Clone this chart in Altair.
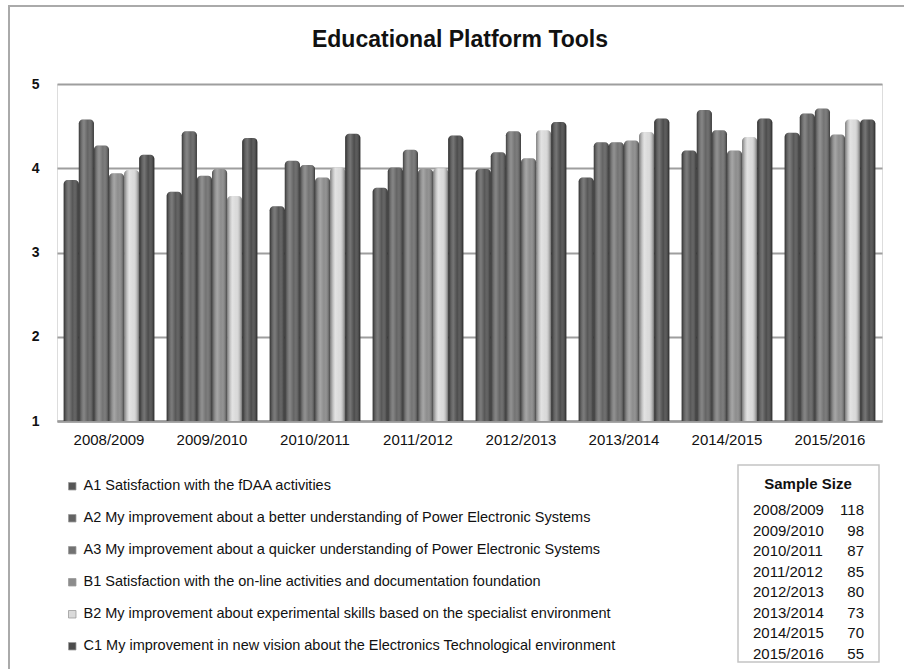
import altair as alt
import pandas as pd

# Academic years on the category axis
years = ["2008/2009", "2009/2010", "2010/2011", "2011/2012",
         "2012/2013", "2013/2014", "2014/2015", "2015/2016"]

# Survey items (legend order)
items = [
    "A1 Satisfaction with the fDAA activities",
    "A2 My improvement about a better understanding of Power Electronic Systems",
    "A3 My improvement about a quicker understanding of Power Electronic Systems",
    "B1 Satisfaction with the on-line activities and documentation foundation",
    "B2 My improvement about experimental skills based on the specialist environment",
    "C1 My improvement in new vision about the Electronics Technological environment",
]

# Mean score per item, one value per academic year
a1 = [3.86, 3.72, 3.55, 3.77, 3.99, 3.89, 4.21, 4.42]
a2 = [4.58, 4.44, 4.09, 4.01, 4.19, 4.31, 4.69, 4.65]
a3 = [4.27, 3.91, 4.04, 4.22, 4.44, 4.31, 4.45, 4.71]
b1 = [3.94, 3.99, 3.89, 3.99, 4.12, 4.33, 4.21, 4.40]
b2 = [3.98, 3.67, 4.01, 4.00, 4.45, 4.43, 4.37, 4.58]
c1 = [4.16, 4.36, 4.41, 4.39, 4.55, 4.59, 4.59, 4.58]

# Respondents per academic year
sample_sizes = [118, 98, 87, 85, 80, 73, 70, 55]

chart_title = "Educational Platform Tools"
table_title = "Sample Size"

shades = ["#565656", "#636363", "#727272", "#8c8c8c", "#dadada", "#4c4c4c"]

rows = []
for item, vals in zip(items, [a1, a2, a3, b1, b2, c1]):
    for yr, v in zip(years, vals):
        rows.append({"year": yr, "item": item, "score": v})
scores = pd.DataFrame(rows)
samples = pd.DataFrame({"year": years, "n": sample_sizes})

FONT = "Liberation Sans"
INK = "#111111"
W, H = 825, 337

x_enc = alt.X(
    "year:N",
    scale=alt.Scale(domain=years, paddingInner=0.12, paddingOuter=0.065),
    axis=alt.Axis(title=None, labelAngle=0, labelFont=FONT, labelFontSize=15,
                  labelColor=INK, labelPadding=11, ticks=False,
                  domainColor="#9a9a9a", domainWidth=2.5, grid=False),
)
xoff = alt.XOffset("item:N", scale=alt.Scale(domain=items, paddingInner=0, paddingOuter=0))
y_scale = alt.Scale(domain=[1, 5], nice=False, zero=False)
y_axis = alt.Axis(title=None, values=[1, 2, 3, 4, 5], labelFont=FONT, labelFontSize=14,
                  labelFontWeight="bold", labelColor=INK, labelPadding=18,
                  ticks=False, domain=False, gridColor="#9e9e9e", gridWidth=1.8)

bars = alt.Chart(scores).mark_bar(cornerRadiusTopLeft=4, cornerRadiusTopRight=4).encode(
    x=x_enc,
    xOffset=xoff,
    y=alt.Y("score:Q", scale=y_scale, axis=y_axis),
    y2=alt.datum(1),
    color=alt.Color(
        "item:N",
        scale=alt.Scale(domain=items, range=shades),
        legend=alt.Legend(title=None, orient="none", legendX=8, legendY=395,
                          direction="vertical", symbolType="square", symbolSize=56,
                          symbolStrokeColor="#9a9a9a", symbolStrokeWidth=0.8,
                          labelFont=FONT, labelFontSize=14.5,
                          labelColor=INK, labelLimit=900, rowPadding=17,
                          labelOffset=4),
    ),
)

# cylinder shading laid over every bar
shine = alt.Chart(scores).mark_bar(
    cornerRadiusTopLeft=4, cornerRadiusTopRight=4,
    color=alt.Gradient(
        gradient="linear", x1=0, x2=1, y1=0, y2=0,
        stops=[
            alt.GradientStop(offset=0, color="rgba(0,0,0,0.45)"),
            alt.GradientStop(offset=0.35, color="rgba(255,255,255,0.22)"),
            alt.GradientStop(offset=0.6, color="rgba(255,255,255,0.0)"),
            alt.GradientStop(offset=1, color="rgba(0,0,0,0.5)"),
        ],
    ),
).encode(
    x=x_enc,
    xOffset=xoff,
    y=alt.Y("score:Q", scale=y_scale, axis=None),
    y2=alt.datum(1),
)

# sample size table
row_y = alt.Y("year:N", scale=alt.Scale(domain=years, type="point", range=[426, 570], padding=0), axis=None)
tbl_years = alt.Chart(samples).mark_text(font=FONT, fontSize=15, align="left", baseline="middle",
                                         color=INK).encode(
    y=row_y, x=alt.value(696), text="year:N")
tbl_n = alt.Chart(samples).mark_text(font=FONT, fontSize=15, align="right", baseline="middle",
                                     color=INK).encode(
    y=row_y, x=alt.value(807), text="n:Q")
tbl_head = alt.Chart(pd.DataFrame({"t": [table_title]})).mark_text(
    font=FONT, fontSize=15, fontWeight="bold", align="center", baseline="middle", color=INK
).encode(x=alt.value(751), y=alt.value(400), text="t:N")
tbl_box = alt.Chart(pd.DataFrame({"t": [0]})).mark_rect(
    fill="transparent", stroke="#c4c4c4", strokeWidth=1.5
).encode(x=alt.value(681), x2=alt.value(822), y=alt.value(381), y2=alt.value(578))

# chart heading
heading = alt.Chart(pd.DataFrame({"t": [chart_title]})).mark_text(
    font=FONT, fontSize=23, fontWeight="bold", align="center", baseline="alphabetic", color=INK
).encode(x=alt.value(403), y=alt.value(-37), text="t:N")

# outer chart-area border
frame = alt.Chart(pd.DataFrame({"t": [0]})).mark_rect(
    fill="transparent", stroke="#aaaaaa", strokeWidth=2
).encode(x=alt.value(-48), x2=alt.value(1000), y=alt.value(-78), y2=alt.value(800))

chart = alt.layer(frame, bars, shine, tbl_box, tbl_head, tbl_years, tbl_n, heading).resolve_scale(
    y="independent"
).properties(
    width=W, height=H,
    padding={"left": 57, "top": 84, "right": 22, "bottom": 248},
    autosize=alt.AutoSizeParams(type="none"),
).configure_view(strokeWidth=0).configure(background="white")

chart.save("out.html", embed_options={"renderer": "svg", "actions": False})
